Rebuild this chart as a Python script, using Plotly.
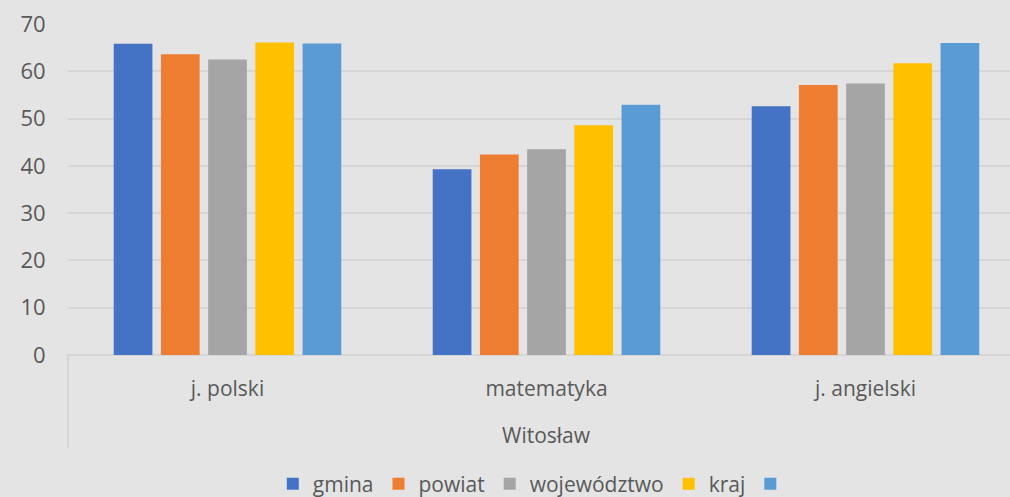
import plotly.graph_objects as go

subjects = ["j. polski", "matematyka", "j. angielski"]
series_names = ["gmina", "powiat", "województwo", "kraj", ""]
gmina = [65.8, 39.3, 52.6]
powiat = [63.6, 42.4, 57.1]
wojewodztwo = [62.5, 43.5, 57.4]
kraj = [66.1, 48.6, 61.7]
szkola = [65.9, 52.9, 66.0]
colors = ["#4472C4", "#ED7D31", "#A5A5A5", "#FFC000", "#5B9BD5"]
outer_label = "Witosław"

bg = "#e4e4e4"
txt = "#595959"
font = "Open Sans, sans-serif"

fig = go.Figure()
for name, vals, c in zip(series_names, [gmina, powiat, wojewodztwo, kraj, szkola], colors):
    fig.add_trace(go.Bar(x=subjects, y=vals, name=name, marker_color=c,
                         marker_line_width=0))

fig.update_layout(
    width=1010, height=497,
    paper_bgcolor=bg, plot_bgcolor=bg,
    margin=dict(l=68, r=0, t=24, b=142),
    barmode="group", bargap=0.26, bargroupgap=0.18,
    font=dict(family=font, size=21, color=txt),
    showlegend=True,
    legend=dict(orientation="h", x=0.495, xanchor="center",
                yref="container", y=0.026, yanchor="middle",
                font=dict(size=21, color=txt), itemwidth=30, tracegroupgap=0,
                bgcolor="rgba(0,0,0,0)"),
)
fig.update_xaxes(range=[-0.5, 2.453], showgrid=False, zeroline=False,
                 showline=False, ticks="outside", ticklen=15,
                 tickcolor="rgba(0,0,0,0)", tickfont=dict(size=21, color=txt))
fig.update_yaxes(range=[0, 70], dtick=10, showgrid=True, gridcolor="#d6d6d6",
                 gridwidth=1.5, zeroline=True, zerolinecolor="#d6d6d6", zerolinewidth=1.5,
                 ticks="outside", ticklen=17, tickcolor="rgba(0,0,0,0)",
                 tickfont=dict(size=22, color=txt))

fig.add_shape(type="line", xref="paper", yref="paper", x0=0, x1=0, y0=0, y1=-0.281,
              line=dict(color="#d0d0d0", width=1.5))
fig.add_annotation(text=outer_label, xref="x", yref="paper", x=subjects[1], y=-0.242,
                   yanchor="middle", showarrow=False, font=dict(size=21, color=txt))

fig.write_html("out.html", config={"displayModeBar": False},
               post_script="document.body.style.margin='0';")
